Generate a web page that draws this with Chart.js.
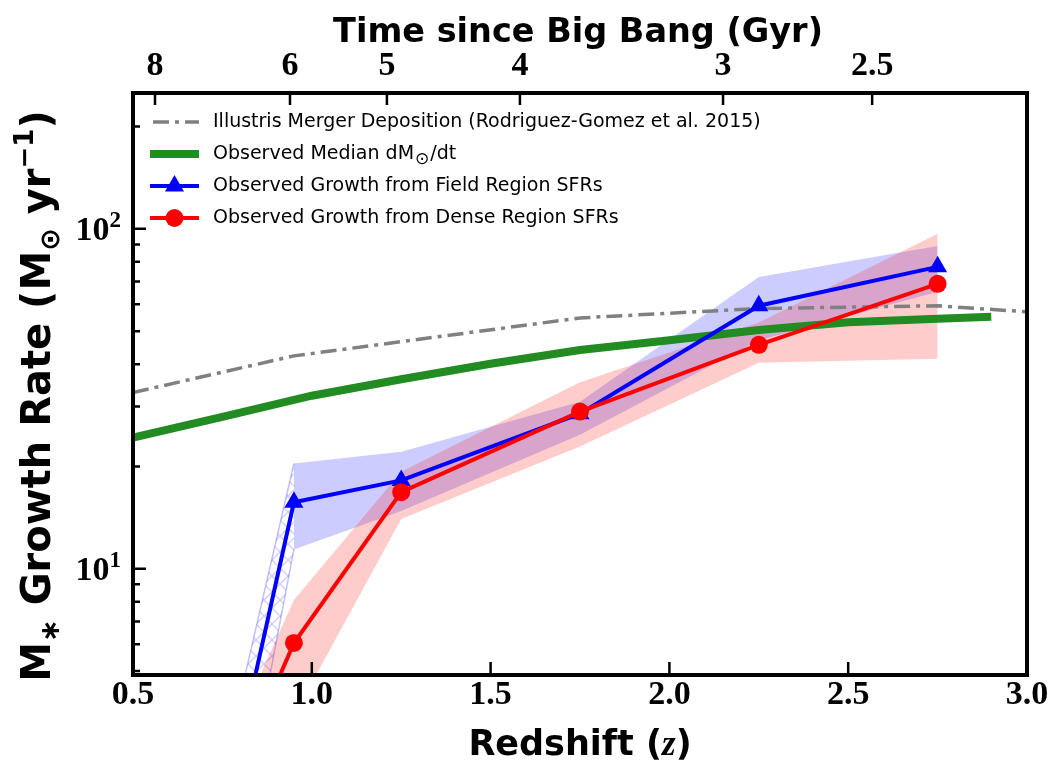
<!DOCTYPE html>
<html><head><meta charset="utf-8">
<script src="https://cdn.jsdelivr.net/npm/chart.js@4"></script>
<style>html,body{margin:0;padding:0;background:#fff}</style>
</head><body>
<canvas id="c" width="1055" height="765"></canvas>
<script>
// ---- data ----
const zBins       = [0.75, 0.95, 1.25, 1.75, 2.25, 2.75];
const fieldGrowth = [1.79, 15.7, 18.2, 28.6, 59.4, 77.3];
const fieldLow    = [0.9, 11.4, 14.8, 24.8, 47.0, 65.3];
const fieldHigh   = [2.5, 20.4, 22.1, 31.0, 72.2, 89.1];
const denseGrowth = [1.98, 6.05, 16.8, 29.0, 45.6, 68.9];
const denseLow    = [1.0, 3.7, 14.0, 22.9, 40.4, 41.5];
const denseHigh   = [2.76, 8.1, 19.3, 35.4, 53.0, 96.7];
const medianZ     = [0.5, 0.75, 1.0, 1.25, 1.5, 1.75, 2.0, 2.25, 2.5, 2.75, 2.9];
const medianRate  = [24.3, 28.0, 32.3, 36.1, 40.1, 44.0, 47.0, 50.4, 53.1, 54.4, 55.1];
const illustrisZ    = [0.5, 0.95, 1.75, 2.25, 2.75, 3.0];
const illustrisRate = [33.0, 42.3, 54.7, 58.3, 59.4, 57.0];
const xTickValues   = [0.5, 1.0, 1.5, 2.0, 2.5, 3.0];
const ageTickZ      = [0.5615, 0.939, 1.21, 1.582, 2.15, 2.567];
const ageTickLabels = ['8', '6', '5', '4', '3', '2.5'];
const yMajorTicks   = [10, 100];
const yMajorExp     = ['1', '2'];
const yMinorTicks   = [5, 6, 7, 8, 9, 20, 30, 40, 50, 60, 70, 80, 90, 200];
const legendLabels  = [
  'Illustris Merger Deposition (Rodriguez-Gomez et al. 2015)',
  'Observed Median dM',
  'Observed Growth from Field Region SFRs',
  'Observed Growth from Dense Region SFRs'
];

const pts = (xs, ys) => xs.map((x, i) => ({x: x, y: ys[i]}));

function makeHatch() {
  const c = document.createElement('canvas');
  c.width = 16; c.height = 16;
  const g = c.getContext('2d');
  g.strokeStyle = 'rgba(0,0,255,0.2)';
  g.lineWidth = 1.3;
  g.beginPath();
  g.moveTo(0, 0); g.lineTo(16, 16);
  g.moveTo(16, 0); g.lineTo(0, 16);
  g.stroke();
  return g.createPattern(c, 'repeat');
}
const hatch = makeHatch();

const BLUE_BAND = 'rgba(0,0,255,0.2)';
const RED_BAND = 'rgba(255,0,0,0.2)';
const TSANS = '"DejaVu Sans"';
const SERIF = 'Liberation Serif';

const firstSeg = (a, b) => (ctx => ctx.p0DataIndex === 0 ? a : b);

const datasets = [
  { label: 'fieldLow', data: pts(zBins, fieldLow), borderWidth: 1.5, borderColor: 'rgba(0,0,0,0)',
    pointRadius: 0, fill: false, order: 20,
    segment: { borderColor: firstSeg('rgba(0,0,255,0.25)', undefined) } },
  { label: 'fieldHigh', data: pts(zBins, fieldHigh), borderWidth: 1.5, borderColor: 'rgba(0,0,0,0)',
    pointRadius: 0, fill: '-1', backgroundColor: BLUE_BAND, order: 19,
    segment: { backgroundColor: firstSeg(hatch, undefined), borderColor: firstSeg('rgba(0,0,255,0.25)', undefined) } },
  { label: 'denseLow', data: pts(zBins, denseLow), borderWidth: 0, borderColor: 'rgba(0,0,0,0)',
    pointRadius: 0, fill: false, order: 18 },
  { label: 'denseHigh', data: pts(zBins, denseHigh), borderWidth: 0, borderColor: 'rgba(0,0,0,0)',
    pointRadius: 0, fill: '-1', backgroundColor: RED_BAND, order: 17 },
  { label: legendLabels[0], data: pts(illustrisZ, illustrisRate), borderColor: '#808080', borderWidth: 3.5,
    borderDash: [16, 6, 4, 6], pointRadius: 0, fill: false, order: 6 },
  { label: legendLabels[1], data: pts(medianZ, medianRate), borderColor: '#228B22', borderWidth: 8,
    pointRadius: 0, fill: false, order: 5, borderCapStyle: 'butt' },
  { label: legendLabels[2], data: pts(zBins, fieldGrowth), borderColor: '#0000ff', borderWidth: 4,
    pointStyle: 'triangle', pointRadius: 11, pointBackgroundColor: '#0000ff', pointBorderWidth: 0,
    fill: false, order: 2 },
  { label: legendLabels[3], data: pts(zBins, denseGrowth), borderColor: '#ff0000', borderWidth: 4,
    pointStyle: 'circle', pointRadius: 9, pointBackgroundColor: '#ff0000', pointBorderWidth: 0,
    fill: false, order: 1 }
];

function drawRuns(ctx, runs, x, y, align) {
  let total = 0;
  runs.forEach(r => { ctx.font = r.font; r.w = ctx.measureText(r.t).width; total += r.w; });
  if (align === 'center') x -= total / 2;
  else if (align === 'right') x -= total;
  ctx.textAlign = 'left';
  ctx.textBaseline = 'alphabetic';
  runs.forEach(r => { ctx.font = r.font; ctx.fillText(r.t, x, y + (r.dy || 0)); x += r.w; });
}

const decor = {
  id: 'decor',
  afterDraw(chart) {
    const ctx = chart.ctx;
    const a = chart.chartArea;
    const xs = chart.scales.x, x2 = chart.scales.x2, ys = chart.scales.y;
    ctx.save();
    ctx.strokeStyle = '#000';
    ctx.fillStyle = '#000';
    // ticks (inward)
    ctx.lineWidth = 2.5;
    ctx.beginPath();
    xTickValues.forEach(v => { const p = xs.getPixelForValue(v); ctx.moveTo(p, a.bottom); ctx.lineTo(p, a.bottom - 13); });
    ageTickZ.forEach(v => { const p = x2.getPixelForValue(v); ctx.moveTo(p, a.top); ctx.lineTo(p, a.top + 12); });
    yMajorTicks.forEach(v => { const p = ys.getPixelForValue(v); ctx.moveTo(a.left, p); ctx.lineTo(a.left + 13, p); });
    yMinorTicks.forEach(v => { const p = ys.getPixelForValue(v); ctx.moveTo(a.left, p); ctx.lineTo(a.left + 7, p); });
    ctx.stroke();
    // frame
    ctx.lineWidth = 4;
    ctx.strokeRect(a.left, a.top, a.right - a.left, a.bottom - a.top);

    // y tick labels 10^n
    yMajorTicks.forEach((v, i) => {
      const p = ys.getPixelForValue(v);
      drawRuns(ctx, [
        {t: '10', font: 'bold 34px "' + SERIF + '"'},
        {t: yMajorExp[i], font: 'bold 23px "' + SERIF + '"', dy: -13}
      ], 121, p + 11, 'right');
    });

    // titles
    drawRuns(ctx, [{t: 'Time since Big Bang (Gyr)', font: 'bold 33.5px ' + TSANS}], 578, 42, 'center');
    drawRuns(ctx, [
      {t: 'Redshift (', font: 'bold 35px ' + TSANS},
      {t: 'z', font: 'italic bold 35px "' + SERIF + '"'},
      {t: ')', font: 'bold 35px ' + TSANS}
    ], 580, 755, 'center');
    ctx.save();
    ctx.translate(50, 396);
    ctx.rotate(-Math.PI / 2);
    drawRuns(ctx, [
      {t: 'M', font: 'bold 40px ' + TSANS},
      {t: '\u2217', font: 'bold 27px ' + TSANS, dy: 9},
      {t: ' Growth Rate (M', font: 'bold 40px ' + TSANS},
      {t: '\u2299', font: 'bold 27px ' + TSANS, dy: 9},
      {t: ' yr', font: 'bold 40px ' + TSANS},
      {t: '\u22121', font: 'bold 26px ' + TSANS, dy: -17},
      {t: ')', font: 'bold 40px ' + TSANS}
    ], 0, 0, 'center');
    ctx.restore();

    // legend
    const lx0 = 150, lx1 = 199, tx = 213;
    const rows = [122, 154, 186, 218];
    const lfont = '19px ' + TSANS;
    ctx.lineCap = 'butt';
    ctx.strokeStyle = '#808080'; ctx.lineWidth = 3.5; ctx.setLineDash([16, 6, 4, 6]);
    ctx.beginPath(); ctx.moveTo(lx0 + 3, rows[0]); ctx.lineTo(lx1, rows[0]); ctx.stroke();
    ctx.setLineDash([]);
    ctx.strokeStyle = '#228B22'; ctx.lineWidth = 8;
    ctx.beginPath(); ctx.moveTo(lx0, rows[1]); ctx.lineTo(lx1, rows[1]); ctx.stroke();
    ctx.strokeStyle = '#0000ff'; ctx.lineWidth = 4;
    ctx.beginPath(); ctx.moveTo(lx0, rows[2]); ctx.lineTo(lx1, rows[2]); ctx.stroke();
    ctx.fillStyle = '#0000ff';
    Chart.helpers.drawPoint(ctx, {pointStyle: 'triangle', radius: 11, rotation: 0, borderWidth: 0}, (lx0 + lx1) / 2, rows[2]);
    ctx.strokeStyle = '#ff0000';
    ctx.beginPath(); ctx.moveTo(lx0, rows[3]); ctx.lineTo(lx1, rows[3]); ctx.stroke();
    ctx.fillStyle = '#ff0000';
    ctx.beginPath(); ctx.arc((lx0 + lx1) / 2, rows[3], 9, 0, Math.PI * 2); ctx.fill();

    ctx.fillStyle = '#000';
    ctx.textAlign = 'left'; ctx.textBaseline = 'middle';
    ctx.font = lfont;
    ctx.fillText(legendLabels[0], tx, rows[0]);
    ctx.fillText(legendLabels[2], tx, rows[2]);
    ctx.fillText(legendLabels[3], tx, rows[3]);
    ctx.fillText(legendLabels[1], tx, rows[1]);
    let w = ctx.measureText(legendLabels[1]).width;
    ctx.font = '17px ' + TSANS;
    ctx.fillText('\u2299', tx + w + 1, rows[1] + 6);
    let w2 = ctx.measureText('\u2299').width;
    ctx.font = lfont;
    ctx.fillText('/dt', tx + w + w2 + 2, rows[1]);
    ctx.restore();
  }
};

new Chart(document.getElementById('c'), {
  type: 'line',
  data: { datasets: datasets },
  options: {
    responsive: false,
    animation: false,
    devicePixelRatio: 1,
    layout: { padding: { left: 0, right: 28, top: 0, bottom: 0 } },
    elements: { line: { tension: 0 } },
    plugins: { legend: { display: false }, tooltip: { enabled: false } },
    scales: {
      x: {
        type: 'linear', position: 'bottom', min: 0.5, max: 3.0,
        afterBuildTicks: s => { s.ticks = xTickValues.map(v => ({value: v})); },
        afterFit: s => { s.height = 90; s.paddingLeft = 0; s.paddingRight = 0; },
        grid: { display: false, drawTicks: false }, border: { display: false },
        ticks: { color: '#000', font: { family: SERIF, weight: 'bold', size: 34 },
                 padding: 0, autoSkip: false, maxRotation: 0, callback: v => Number(v).toFixed(1) }
      },
      x2: {
        type: 'linear', position: 'top', min: 0.5, max: 3.0,
        afterBuildTicks: s => { s.ticks = ageTickZ.map(v => ({value: v})); },
        afterFit: s => { s.height = 93; s.paddingLeft = 0; s.paddingRight = 0; },
        grid: { display: false, drawTicks: false }, border: { display: false },
        ticks: { color: '#000', font: { family: SERIF, weight: 'bold', size: 34 },
                 padding: 6, autoSkip: false, maxRotation: 0, callback: (v, i) => ageTickLabels[i] }
      },
      y: {
        type: 'logarithmic', position: 'left', min: 4.87, max: 251,
        afterBuildTicks: s => { s.ticks = yMinorTicks.concat(yMajorTicks).sort((p, q) => p - q).map(v => ({value: v})); },
        afterFit: s => { s.width = 133; },
        grid: { display: false, drawTicks: false }, border: { display: false },
        ticks: { display: false }
      }
    }
  },
  plugins: [decor]
});
</script>
</body></html>
